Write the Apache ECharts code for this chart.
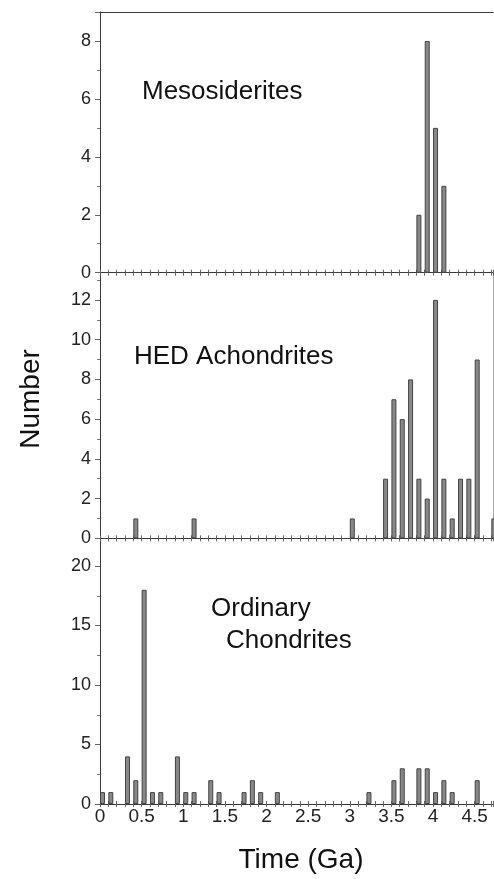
<!DOCTYPE html>
<html><head><meta charset="utf-8">
<script src="https://cdn.jsdelivr.net/npm/echarts@6/dist/echarts.min.js"></script>
<style>html,body{margin:0;padding:0;background:#fff}#c{width:494px;height:879px}</style>
</head><body><div id="c"></div>
<script>
// ---- data ----
const xTickLabels = ['0','0.5','1','1.5','2','2.5','3','3.5','4','4.5'];
const panelNames = ['Mesosiderites', 'HED Achondrites', 'Ordinary', 'Chondrites'];
const xTitle = 'Time (Ga)';
const yTitle = 'Number';
// bin lower edges (Ga, 0.1 Ga bins) and counts
const mesoBins   = [3.8, 3.9, 4.0, 4.1];
const mesoCounts = [2, 8, 5, 3];
const hedBins    = [0.4, 1.1, 3.0, 3.4, 3.5, 3.6, 3.7, 3.8, 3.9, 4.0, 4.1, 4.2, 4.3, 4.4, 4.5, 4.7];
const hedCounts  = [1, 1, 1, 3, 7, 6, 8, 3, 2, 12, 3, 1, 3, 3, 9, 1];
const ocBins     = [0.0, 0.1, 0.3, 0.4, 0.5, 0.6, 0.7, 0.9, 1.0, 1.1, 1.3, 1.4, 1.7, 1.8, 1.9, 2.1, 3.2, 3.5, 3.6, 3.8, 3.9, 4.0, 4.1, 4.2, 4.5];
const ocCounts   = [1, 1, 4, 2, 18, 1, 1, 4, 1, 1, 2, 1, 1, 2, 1, 1, 1, 2, 3, 3, 3, 1, 2, 1, 2];
const yTickStep  = [2, 2, 5];
const yTop       = [9, 13.37, 22.33];

// ---- layout / style ----
const FONT = '"Liberation Sans", Arial, sans-serif';
const BAR_OFFSET = 0.03;
const X_MAX = 4.72;
const panels = [
  {top: 12,    height: 260.7, bins: mesoBins, counts: mesoCounts},
  {top: 272.7, height: 265.6, bins: hedBins,  counts: hedCounts},
  {top: 538.3, height: 265.7, bins: ocBins,   counts: ocCounts}
];
const LEFT = 100, RIGHT = 1;
const axisColor = '#3a3a3a';

const grid = [], xAxis = [], yAxis = [], series = [];
panels.forEach((p, i) => {
  grid.push({left: LEFT, right: RIGHT, top: p.top, height: p.height, containLabel: false});
});
panels.forEach((p, i) => {
  grid.push({left: LEFT, right: RIGHT, top: p.top, height: p.height, containLabel: false});
});

function fmtX(v) {
  const idx = Math.round(v / 0.5);
  if (Math.abs(v - idx * 0.5) < 1e-6 && idx < xTickLabels.length) return xTickLabels[idx];
  return '';
}

panels.forEach((p, i) => {
  const isLast = i === panels.length - 1;
  xAxis.push({
    gridIndex: i, type: 'value', min: 0, max: X_MAX, interval: 0.5, position: 'bottom',
    axisLine: {show: true, onZero: false, lineStyle: {color: axisColor, width: 1}},
    axisTick: {show: true, inside: true, length: 3, lineStyle: {color: '#666'}},
    minorTick: {show: true, splitNumber: 5, length: 3, lineStyle: {color: '#666'}},
    axisLabel: {show: isLast, showMaxLabel: false, formatter: fmtX, color: '#222',
                fontFamily: FONT, fontSize: 19, margin: 3},
    splitLine: {show: false}, minorSplitLine: {show: false}
  });
  const st = yTickStep[i];
  yAxis.push({
    gridIndex: i, type: 'value', min: 0, max: yTop[i], interval: st,
    axisLine: {show: true, lineStyle: {color: axisColor, width: 1}},
    axisTick: {show: true, inside: false, length: 5, lineStyle: {color: '#666'}},
    minorTick: {show: true, splitNumber: 2, length: 3, lineStyle: {color: '#777'}},
    axisLabel: {showMaxLabel: false, color: '#222', fontFamily: FONT, fontSize: 18, margin: 9,
      formatter: v => (Math.abs(v / st - Math.round(v / st)) < 1e-6 ? String(v) : '')},
    splitLine: {show: false}
  });
  series.push({
    type: 'bar', xAxisIndex: i, yAxisIndex: i, barWidth: 5,
    data: p.bins.map((b, k) => [b + BAR_OFFSET, p.counts[k]]),
    itemStyle: {color: '#888888', borderColor: '#444444', borderWidth: 1},
    clip: true, silent: true
  });
});
// duplicate grids: ticks on the outer side of each baseline
panels.forEach((p, i) => {
  xAxis.push({
    gridIndex: i + 3, type: 'value', min: 0, max: X_MAX, interval: 0.5, position: 'bottom',
    axisLine: {show: false, onZero: false},
    axisTick: {show: true, inside: false, length: 3, lineStyle: {color: '#666'}},
    minorTick: {show: true, splitNumber: 5, length: 3, lineStyle: {color: '#666'}},
    axisLabel: {show: false}, splitLine: {show: false}
  });
  yAxis.push({gridIndex: i + 3, type: 'value', min: 0, max: yTop[i], show: false});
});
// top border of first panel
xAxis.push({
  gridIndex: 0, type: 'value', min: 0, max: X_MAX, position: 'top',
  axisLine: {show: true, onZero: false, lineStyle: {color: axisColor, width: 1}},
  axisTick: {show: false}, axisLabel: {show: false}, splitLine: {show: false}
});
// faint right edge of middle panel
yAxis.push({
  gridIndex: 1, type: 'value', min: 0, max: yTop[1], position: 'right',
  axisLine: {show: true, lineStyle: {color: '#aaa', width: 1}},
  axisTick: {show: false}, axisLabel: {show: false}, splitLine: {show: false}
});

const textStyle = (t, size) => ({text: t, font: size + 'px ' + FONT, fill: '#111',
                                 align: 'left', verticalAlign: 'middle'});
const graphic = [
  {type: 'text', x: 142, y: 92,  style: textStyle(panelNames[0], 26)},
  {type: 'text', x: 134, y: 357, style: textStyle(panelNames[1], 26)},
  {type: 'text', x: 211, y: 609, style: textStyle(panelNames[2], 26)},
  {type: 'text', x: 226, y: 641, style: textStyle(panelNames[3], 26)},
  {type: 'text', x: 31, y: 399, rotation: Math.PI / 2,
   style: Object.assign(textStyle(yTitle, 28), {align: 'center'})},
  {type: 'text', x: 301, y: 860,
   style: Object.assign(textStyle(xTitle, 28), {align: 'center'})}
];

const chart = echarts.init(document.getElementById('c'), null, {renderer: 'canvas'});
chart.setOption({animation: false, backgroundColor: '#fff', grid, xAxis, yAxis, series, graphic});
</script>
</body></html>
